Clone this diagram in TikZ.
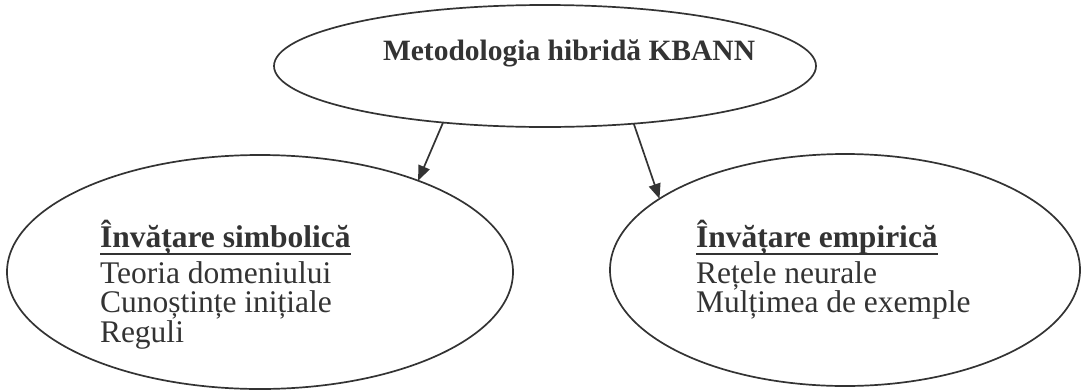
\documentclass[tikz,border=0pt]{standalone}
\usepackage{fontspec}
\setmainfont{Liberation Serif}
\usetikzlibrary{shapes.geometric,arrows.meta}
\definecolor{ink}{HTML}{333333}
\begin{document}
\begin{tikzpicture}[x=1pt,y=-1pt,
  oval/.style={ellipse,draw=ink,line width=1.7pt,inner sep=0pt,outer sep=0pt},
  txt/.style={anchor=base west,inner sep=0pt,outer sep=0pt,text=ink,
    font=\fontsize{31.5}{36}\selectfont},
  head/.style={txt,font=\fontsize{31.5}{36}\selectfont\bfseries},
  titletxt/.style={txt,font=\fontsize{29.5}{34}\selectfont\bfseries},
  arr/.style={draw=ink,line width=1.7pt,-{Triangle[length=15pt,width=12pt]}},
  uline/.style={draw=ink,line width=2.7pt}]
\useasboundingbox (0,0) rectangle (1081,389);

% the three ovals
\node[oval,minimum width=542pt,minimum height=122pt] (root) at (545,66) {};
\node[oval,minimum width=506pt,minimum height=234pt] (sym) at (260,272) {};
\node[oval,minimum width=470pt,minimum height=232pt] (emp) at (845,270) {};

% title
\node[titletxt] (title) at (383,60) {Metodologia hibridă KBANN};

% left oval: symbolic learning
\node[head] (symh) at (100,247) {Învățare simbolică};
\node[txt] (sym1) at (100,283) {Teoria domeniului};
\node[txt] (sym2) at (100,312.5) {Cunoștințe inițiale};
\node[txt] (sym3) at (100,342) {Reguli};

% right oval: empirical learning
\node[head] (emph) at (696,247) {Învățare empirică};
\node[txt] (emp1) at (696,283) {Rețele neurale};
\node[txt] (emp2) at (696,312.5) {Mulțimea de exemple};

% underlines of the headings
\draw[uline] ([yshift=-7pt]symh.base west) -- ([yshift=-7pt]symh.base east);
\draw[uline] ([yshift=-7pt]emph.base west) -- ([yshift=-7pt]emph.base east);

% arrows from the methodology to both learning kinds
\draw[arr] (root.209) -- (sym.30);
\draw[arr] (root.327) -- (emp.159);
\end{tikzpicture}
\end{document}
